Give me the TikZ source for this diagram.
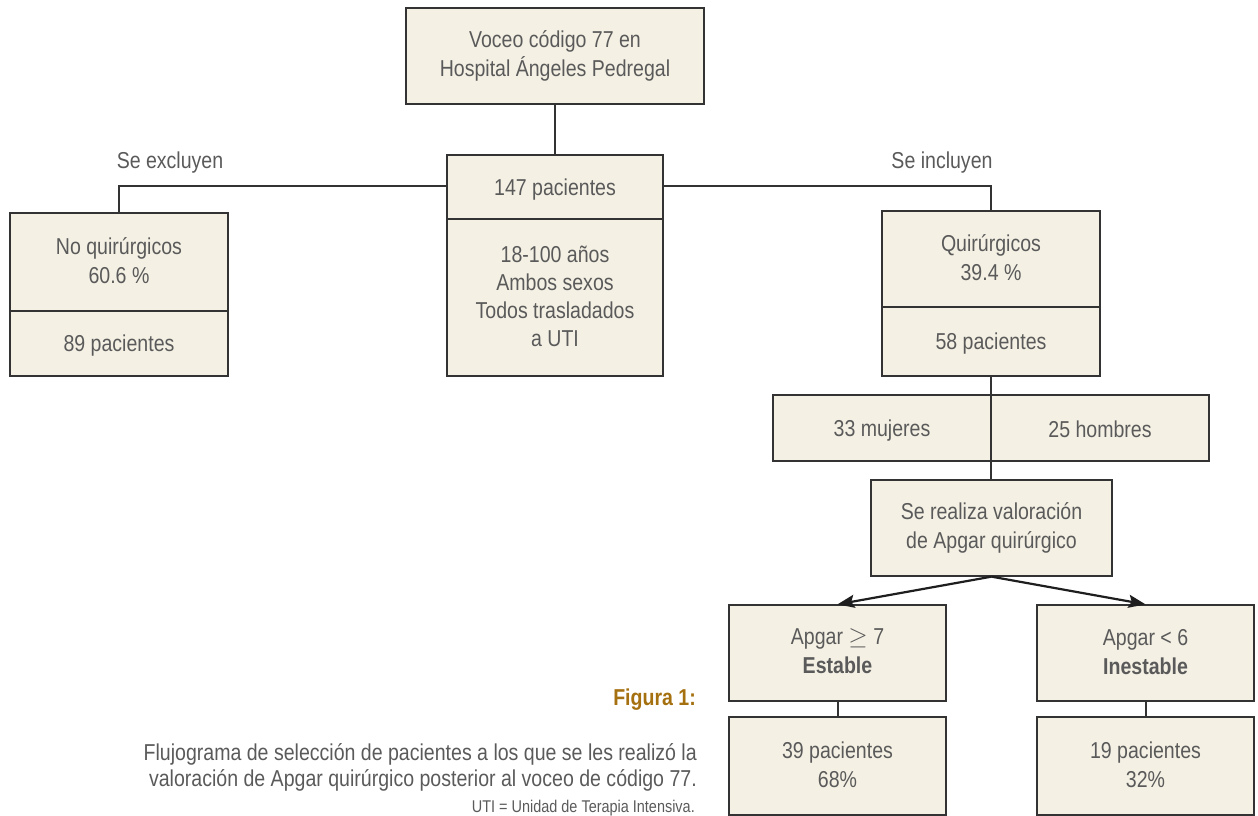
\documentclass[tikz,border=0pt]{standalone}
\usepackage{fontspec}
\setmainfont{Liberation Sans}[FakeStretch=0.85]
\usetikzlibrary{arrows.meta}
\definecolor{cream}{HTML}{F4F0E4}
\definecolor{bordercol}{HTML}{333333}
\definecolor{arrcol}{HTML}{1E1E1E}
\definecolor{txtgray}{HTML}{5A5A5A}
\definecolor{figcol}{HTML}{A5700F}
\newcommand{\bxstrut}{\rule[-3pt]{0pt}{24pt}}
\newcommand{\mlstrut}{\rule[-3pt]{0pt}{25.5pt}}
\begin{document}
\begin{tikzpicture}[x=1pt,y=-1pt,
  every node/.style={font=\fontsize{23}{28}\selectfont, text=txtgray},
  box/.style={draw=bordercol, fill=cream, line width=1.3pt, align=center, inner sep=0pt,
    font=\fontsize{23}{29}\selectfont,
    execute at begin node=\bxstrut, execute at end node=\bxstrut},
  mbox/.style={box, execute at begin node=\mlstrut},
  thickbox/.style={mbox, line width=2.4pt},
  conn/.style={draw=bordercol, line width=1.5pt},
  arr/.style={draw=arrcol, line width=2.2pt, -{Stealth[length=17pt,width=13pt,inset=3pt]}},
  lbl/.style={inner sep=0pt}]
\useasboundingbox (0,0) rectangle (1258,816);

% connectors drawn first (behind boxes)
\coordinate (topb) at (555,104);
\coordinate (p147t) at (555,155);
\coordinate (hl) at (119,186);
\coordinate (hr) at (991,186);
\coordinate (nqt) at (119,213);
\coordinate (qt) at (991,211);
\coordinate (p58b) at (991,376);
\coordinate (valt) at (991,480);
\coordinate (a7b) at (838,701);
\coordinate (p39t) at (838,717);
\coordinate (a6b) at (1146,701);
\coordinate (p19t) at (1146,717);
\draw[conn] (topb) -- (p147t);
\draw[conn] (nqt) -- (hl) -- (hr) -- (qt);
\draw[conn] (p58b) -- (valt);
\draw[conn] (a7b) -- (p39t);
\draw[conn] (a6b) -- (p19t);

% boxes
\node[mbox, minimum width=298pt, minimum height=96pt] (top) at (555,56) {Voceo código 77 en\\Hospital Ángeles Pedregal};
\node[box, minimum width=216pt, minimum height=64pt] (p147) at (555,187) {147 pacientes};
\node[mbox, minimum width=216pt, minimum height=157pt, font=\fontsize{23}{28}\selectfont] (info) at (555,297.5) {18-100 años\\Ambos sexos\\Todos trasladados\\a UTI};
\node[mbox, minimum width=218pt, minimum height=98pt] (noq) at (119,262) {No quirúrgicos\\60.6 \%};
\node[box, minimum width=218pt, minimum height=65pt] (p89) at (119,343.5) {89 pacientes};
\node[box, minimum width=218pt, minimum height=69pt] (p58) at (991,341.5) {58 pacientes};
\node[thickbox, minimum width=218pt, minimum height=96pt] (quir) at (991,259) {Quirúrgicos\\39.4 \%};
\node[box, minimum width=218pt, minimum height=66pt] (muj) at (882,428) {33 mujeres};
\node[box, minimum width=218pt, minimum height=66pt] (hom) at (1100,428) {25 hombres};
\draw[conn] (muj.north east) -- (muj.south east);
\node[mbox, minimum width=241pt, minimum height=96pt] (val) at (991.5,528) {Se realiza valoración\\de Apgar quirúrgico};
\node[mbox, minimum width=217pt, minimum height=96pt] (a7) at (837.5,653) {Apgar $\geq$ 7\\\textbf{Estable}};
\node[mbox, minimum width=217pt, minimum height=98pt] (p39) at (837.5,766) {39 pacientes\\68\%};
\node[mbox, minimum width=217pt, minimum height=96pt] (a6) at (1145.5,653) {Apgar < 6\\\textbf{Inestable}};
\node[mbox, minimum width=217pt, minimum height=98pt] (p19) at (1145.5,766) {19 pacientes\\32\%};

% arrows
\draw[arr] (val.south) -- (a7.north);
\draw[arr] (val.south) -- (a6.north);

% labels
\node[lbl] (exc) at (170,163) {Se excluyen};
\node[lbl] (inc) at (942,163) {Se incluyen};

% caption
\node[lbl, anchor=base east, text=figcol] (fig) at (696,705) {\textbf{Figura 1:}};
\node[lbl, anchor=base east] (cap1) at (697,760) {Flujograma de selección de pacientes a los que se les realizó la};
\node[lbl, anchor=base east] (cap2) at (697,786) {valoración de Apgar quirúrgico posterior al voceo de código 77.};
\node[lbl, anchor=base east, font=\fontsize{17}{20}\selectfont] (cap3) at (695,812) {UTI = Unidad de Terapia Intensiva.};
\end{tikzpicture}
\end{document}
